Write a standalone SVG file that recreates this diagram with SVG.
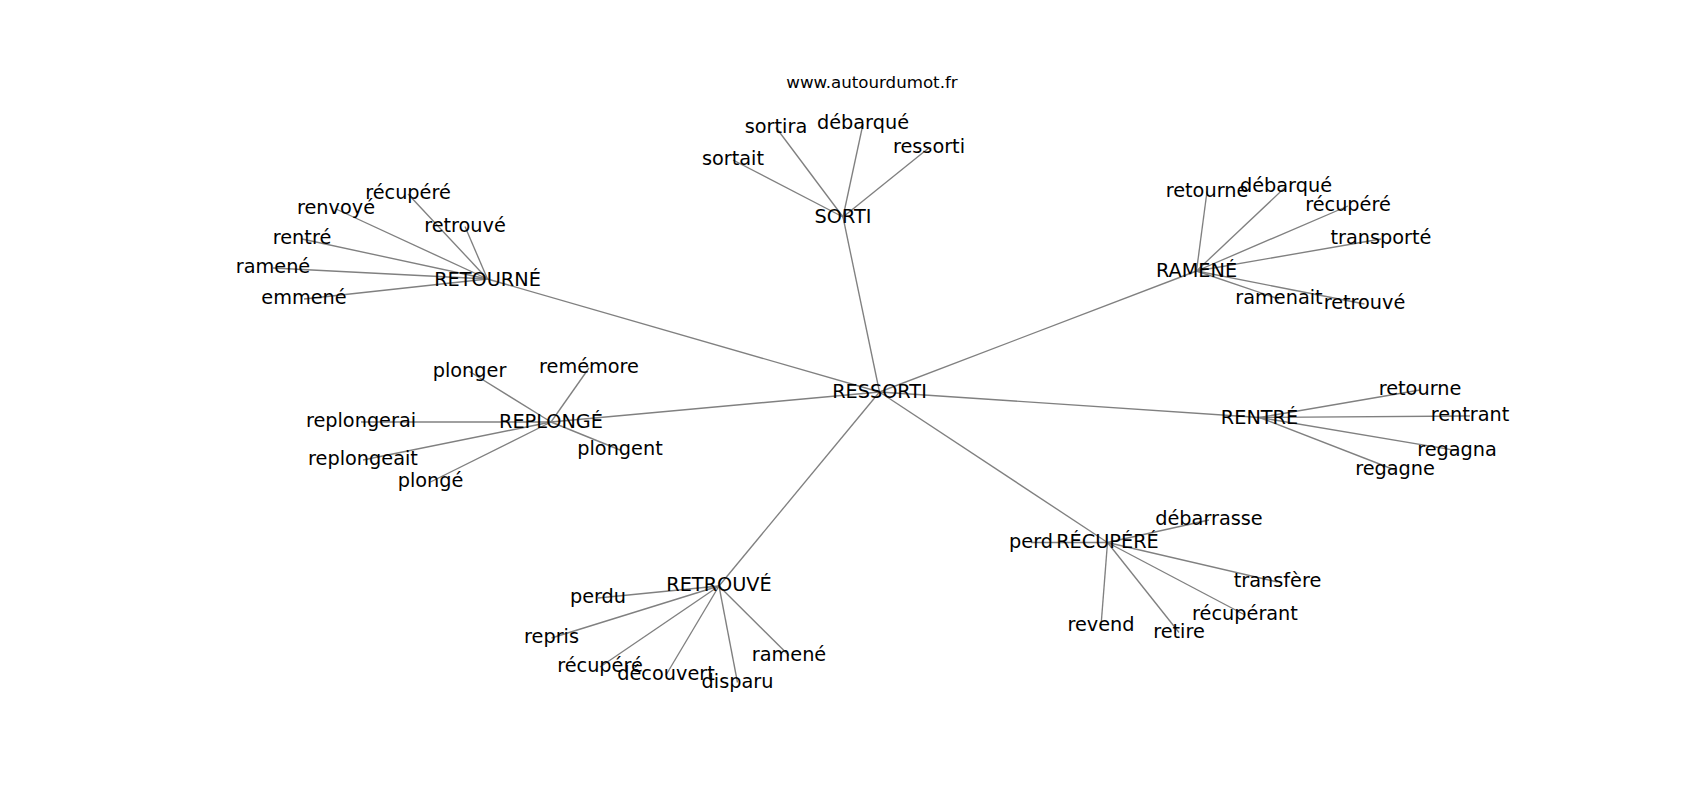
<svg xmlns="http://www.w3.org/2000/svg" width="1700" height="800" viewBox="0 0 1700 800">
<style>
.e{stroke:#808080;stroke-width:1.35;fill:none}
text{font-family:"DejaVu Sans","Liberation Sans",sans-serif;font-size:19.3px;fill:#000;text-anchor:middle}
.t{font-size:16.67px}
</style>
<rect width="1700" height="800" fill="#fff"/>
<text class="t" x="872" y="88">www.autourdumot.fr</text>
<g id="connectors">
<line class="e" x1="879.5" y1="392" x2="843" y2="217"/>
<line class="e" x1="879.5" y1="392" x2="487.5" y2="279"/>
<line class="e" x1="879.5" y1="392" x2="1196.5" y2="271"/>
<line class="e" x1="879.5" y1="392" x2="551" y2="422"/>
<line class="e" x1="879.5" y1="392" x2="1259.5" y2="417.5"/>
<line class="e" x1="879.5" y1="392" x2="1107.5" y2="542.5"/>
<line class="e" x1="879.5" y1="392" x2="719" y2="586"/>
<line class="e" x1="843" y1="217" x2="776" y2="127.5"/>
<line class="e" x1="843" y1="217" x2="863" y2="124"/>
<line class="e" x1="843" y1="217" x2="929" y2="147.7"/>
<line class="e" x1="843" y1="217" x2="733" y2="160"/>
<line class="e" x1="487.5" y1="279" x2="408" y2="194"/>
<line class="e" x1="487.5" y1="279" x2="336" y2="209"/>
<line class="e" x1="487.5" y1="279" x2="465" y2="226.5"/>
<line class="e" x1="487.5" y1="279" x2="302" y2="239"/>
<line class="e" x1="487.5" y1="279" x2="273" y2="268"/>
<line class="e" x1="487.5" y1="279" x2="304" y2="299"/>
<line class="e" x1="1196.5" y1="271" x2="1207" y2="191.5"/>
<line class="e" x1="1196.5" y1="271" x2="1286" y2="186.5"/>
<line class="e" x1="1196.5" y1="271" x2="1348" y2="206"/>
<line class="e" x1="1196.5" y1="271" x2="1381" y2="239"/>
<line class="e" x1="1196.5" y1="271" x2="1279" y2="299"/>
<line class="e" x1="1196.5" y1="271" x2="1364.5" y2="304"/>
<line class="e" x1="1259.5" y1="417.5" x2="1420" y2="390"/>
<line class="e" x1="1259.5" y1="417.5" x2="1470" y2="416"/>
<line class="e" x1="1259.5" y1="417.5" x2="1457" y2="450.7"/>
<line class="e" x1="1259.5" y1="417.5" x2="1395" y2="470"/>
<line class="e" x1="1107.5" y1="542.5" x2="1031" y2="542.5"/>
<line class="e" x1="1107.5" y1="542.5" x2="1209" y2="520"/>
<line class="e" x1="1107.5" y1="542.5" x2="1277.5" y2="582"/>
<line class="e" x1="1107.5" y1="542.5" x2="1245" y2="615"/>
<line class="e" x1="1107.5" y1="542.5" x2="1101" y2="626"/>
<line class="e" x1="1107.5" y1="542.5" x2="1179" y2="632.5"/>
<line class="e" x1="719" y1="586" x2="598" y2="598"/>
<line class="e" x1="719" y1="586" x2="551.5" y2="638"/>
<line class="e" x1="719" y1="586" x2="600" y2="667"/>
<line class="e" x1="719" y1="586" x2="666" y2="675"/>
<line class="e" x1="719" y1="586" x2="737.5" y2="682.5"/>
<line class="e" x1="719" y1="586" x2="789" y2="655.5"/>
<line class="e" x1="551" y1="422" x2="469.5" y2="371.5"/>
<line class="e" x1="551" y1="422" x2="589" y2="368"/>
<line class="e" x1="551" y1="422" x2="361" y2="422"/>
<line class="e" x1="551" y1="422" x2="363" y2="460"/>
<line class="e" x1="551" y1="422" x2="430.5" y2="482"/>
<line class="e" x1="551" y1="422" x2="620" y2="450"/>
</g>
<g id="n-ressorti"><text x="879.5" y="398">RESSORTI</text></g>
<g id="n-sorti"><text x="843" y="223.3">SORTI</text></g>
<g id="n-sortira"><text x="776" y="132.7">sortira</text></g>
<g id="n-debarque-1"><text x="863" y="129.3">débarqué</text></g>
<g id="n-ressorti-leaf"><text x="929" y="152.7">ressorti</text></g>
<g id="n-sortait"><text x="733" y="165">sortait</text></g>
<g id="n-retourne-hub"><text x="487.5" y="285.7">RETOURNÉ</text></g>
<g id="n-recupere-1"><text x="408" y="199.3">récupéré</text></g>
<g id="n-renvoye"><text x="336" y="214.3">renvoyé</text></g>
<g id="n-retrouve-1"><text x="465" y="231.7">retrouvé</text></g>
<g id="n-rentre"><text x="302" y="244">rentré</text></g>
<g id="n-ramene-1"><text x="273" y="273.3">ramené</text></g>
<g id="n-emmene"><text x="304" y="304.3">emmené</text></g>
<g id="n-ramene-hub"><text x="1196.5" y="277.3">RAMENÉ</text></g>
<g id="n-retourne-1"><text x="1207" y="196.7">retourne</text></g>
<g id="n-debarque-2"><text x="1286" y="191.7">débarqué</text></g>
<g id="n-recupere-2"><text x="1348" y="211">récupéré</text></g>
<g id="n-transporte"><text x="1381" y="244">transporté</text></g>
<g id="n-ramenait"><text x="1279" y="304">ramenait</text></g>
<g id="n-retrouve-2"><text x="1364.5" y="309">retrouvé</text></g>
<g id="n-rentre-hub"><text x="1259.5" y="424">RENTRÉ</text></g>
<g id="n-retourne-2"><text x="1420" y="395">retourne</text></g>
<g id="n-rentrant"><text x="1470" y="421">rentrant</text></g>
<g id="n-regagna"><text x="1457" y="455.7">regagna</text></g>
<g id="n-regagne"><text x="1395" y="475">regagne</text></g>
<g id="n-recupere-hub"><text x="1107.5" y="548.3">RÉCUPÉRÉ</text></g>
<g id="n-perd"><text x="1031" y="548.3">perd</text></g>
<g id="n-debarrasse"><text x="1209" y="525">débarrasse</text></g>
<g id="n-transfere"><text x="1277.5" y="587.3">transfère</text></g>
<g id="n-recuperant"><text x="1245" y="620">récupérant</text></g>
<g id="n-revend"><text x="1101" y="631">revend</text></g>
<g id="n-retire"><text x="1179" y="637.7">retire</text></g>
<g id="n-retrouve-hub"><text x="719" y="591">RETROUVÉ</text></g>
<g id="n-perdu"><text x="598" y="603.3">perdu</text></g>
<g id="n-repris"><text x="551.5" y="643.3">repris</text></g>
<g id="n-recupere-3"><text x="600" y="672.3">récupéré</text></g>
<g id="n-decouvert"><text x="666" y="680">découvert</text></g>
<g id="n-disparu"><text x="737.5" y="687.7">disparu</text></g>
<g id="n-ramene-3"><text x="789" y="660.7">ramené</text></g>
<g id="n-replonge-hub"><text x="551" y="427.5">REPLONGÉ</text></g>
<g id="n-plonger"><text x="469.5" y="376.7">plonger</text></g>
<g id="n-rememore"><text x="589" y="373.3">remémore</text></g>
<g id="n-replongerai"><text x="361" y="427.3">replongerai</text></g>
<g id="n-replongeait"><text x="363" y="465">replongeait</text></g>
<g id="n-plonge"><text x="430.5" y="487.3">plongé</text></g>
<g id="n-plongent"><text x="620" y="455">plongent</text></g>
</svg>
